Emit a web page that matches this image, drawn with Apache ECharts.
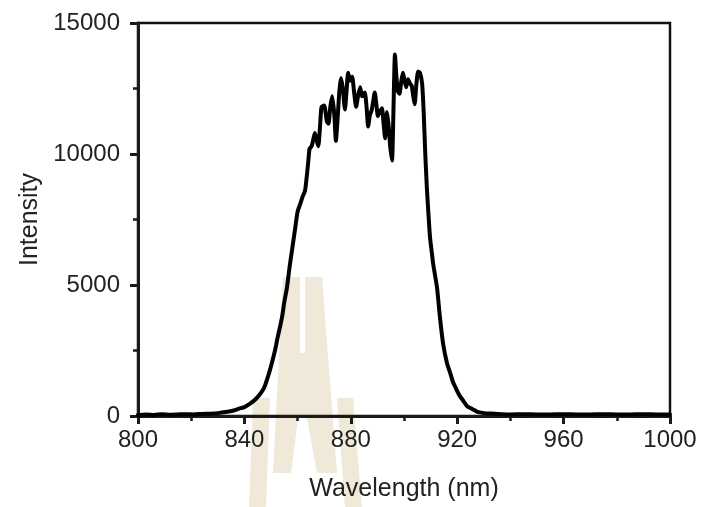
<!DOCTYPE html>
<html><head><meta charset="utf-8">
<script src="https://cdn.jsdelivr.net/npm/echarts@6/dist/echarts.min.js"></script>
<style>html,body{margin:0;padding:0;background:#fff}#c{width:703px;height:507px}</style>
</head><body><div id="c"></div>
<script>
var wavelength = [800,803,806,809,812,815,818,821,824,827,830,833,836,838,840,842,844,846,847.5,849,850,851.5,852.5,853.5,854.2,855,856,857,858,859,860,861,862,862.8,863.5,864,864.5,865.3,866,866.5,867.2,867.8,868.4,869,870,871,871.6,872.3,873,873.8,874.4,875,875.7,876.3,877,877.8,878.4,879,879.7,880.5,881.2,882,882.7,883.5,884.2,884.8,885.3,886,886.5,887.2,887.8,888.4,889,889.6,890.2,890.9,891.7,892.3,892.9,893.6,894.2,894.8,895.5,896,896.6,897.1,897.7,898.3,899,899.6,900.2,900.8,901.5,902.2,902.9,903.5,904,904.6,905.3,906,906.8,907.4,908,908.6,909.2,909.8,910.5,911,912.4,913.5,914.7,916.2,917.5,918.4,919.2,920,921,922,923.7,925,927.4,929,931,934,937,940,945,950,955,960,965,970,975,980,985,990,995,1000];
var intensity = [40,60,40,70,50,60,70,60,80,90,110,150,210,280,340,460,620,850,1100,1550,1900,2500,3000,3450,3800,4350,4900,5700,6400,7100,7800,8100,8400,8600,9200,9700,10200,10300,10600,10800,10500,10300,11000,11800,11850,11250,11150,11800,12200,11500,10500,11300,12400,12900,12500,11700,12400,13100,12800,12950,12400,11800,12200,12550,12200,12250,12350,11700,11050,11500,11650,12000,12350,11900,11450,11600,11750,11200,10600,11600,11100,10300,9750,11500,13800,13000,12400,12300,12800,13100,12800,12550,12850,12700,12600,12200,11900,12600,13150,13100,12700,11600,10000,8700,7700,6800,6200,5780,4910,3780,2760,2000,1600,1300,1130,950,760,620,380,300,170,130,100,90,70,60,70,60,60,70,60,60,70,60,60,70,60,60];
var xTicks = [800,840,880,920,960,1000];
var yTicks = [0,5000,10000,15000];

var pts = wavelength.map(function(w,i){return [w,intensity[i]];});
var wm = '#f0e8d9';
var chart = echarts.init(document.getElementById('c'), null, {renderer:'canvas'});
var font = 'Liberation Sans, Arial, sans-serif';
function plain(v){return String(v);}
chart.setOption({
  animation:false,
  backgroundColor:'#fff',
  graphic:[
    {type:'polygon', silent:true, z:-10, shape:{points:[[253,398],[270,398],[266,507],[249,507]]}, style:{fill:wm}},
    {type:'polygon', silent:true, z:-10, shape:{points:[[337,398],[353,398],[362,507],[345,507]]}, style:{fill:wm}},
    {type:'polygon', silent:true, z:-10, shape:{points:[[283,277],[300,277],[300,353],[305,353],[305,277],[322,277],[337,473],[317,473],[307,418],[298,418],[291,473],[273,473]]}, style:{fill:wm}}
  ],
  grid:{left:138,right:33,top:23,bottom:87,show:true,borderColor:'#111',borderWidth:2.5,backgroundColor:'transparent'},
  xAxis:{type:'value',min:xTicks[0],max:xTicks[xTicks.length-1],interval:40,
    name:'Wavelength (nm)',nameLocation:'middle',nameGap:61,
    nameTextStyle:{fontFamily:font,fontSize:25,color:'#222'},
    axisLine:{show:true,onZero:false,lineStyle:{color:'#1a1a1a',width:3}},
    axisTick:{show:true,inside:false,length:8,lineStyle:{color:'#1a1a1a',width:3}},
    minorTick:{show:true,splitNumber:2,length:5,lineStyle:{color:'#1a1a1a',width:2.5}},
    axisLabel:{margin:12,fontFamily:font,fontSize:24,color:'#222',formatter:plain},
    splitLine:{show:false}},
  yAxis:{type:'value',min:yTicks[0],max:yTicks[yTicks.length-1],interval:5000,
    name:'Intensity',nameLocation:'middle',nameGap:91,
    nameTextStyle:{fontFamily:font,fontSize:25,color:'#222'},
    axisLine:{show:true,onZero:false,lineStyle:{color:'#1a1a1a',width:3}},
    axisTick:{show:true,inside:false,length:8,lineStyle:{color:'#1a1a1a',width:3}},
    minorTick:{show:true,splitNumber:2,length:5,lineStyle:{color:'#1a1a1a',width:2.5}},
    axisLabel:{margin:18,fontFamily:font,fontSize:24,color:'#222',formatter:plain},
    splitLine:{show:false}},
  series:[{type:'line',data:pts,showSymbol:false,smooth:0.2,z:5,
    lineStyle:{color:'#000',width:4,join:'round',cap:'round'}}]
});
</script></body></html>
